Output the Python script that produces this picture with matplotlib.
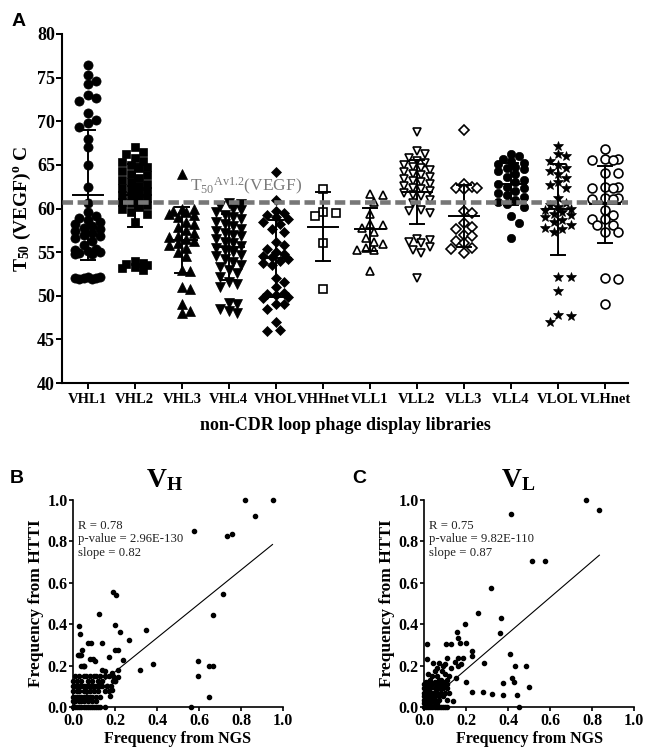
import numpy as np
import matplotlib
matplotlib.use("Agg")
import matplotlib.pyplot as plt

plt.rcParams["font.family"] = ["Liberation Serif", "DejaVu Serif"]
plt.rcParams["mathtext.fontset"] = "custom"
plt.rcParams["mathtext.rm"] = "Liberation Serif"
plt.rcParams["mathtext.it"] = "Liberation Serif:italic"
plt.rcParams["mathtext.bf"] = "Liberation Serif:bold"

# ---------- panel A data (T50 values per library) ----------
libs = ["VHL1", "VHL2", "VHL3", "VHL4", "VHOL", "VHHnet",
        "VLL1", "VLL2", "VLL3", "VLL4", "VLOL", "VLHnet"]

vhl1 = [76.5, 75.3, 74.6, 74.3, 73.0, 72.7, 72.3, 70.9, 70.2, 69.8, 69.3, 68.0, 67.0, 65.0,
        62.5, 60.6, 59.6, 59.1, 58.9, 58.7, 58.5, 58.2, 58.0, 57.8, 57.6, 57.4, 57.2, 57.0,
        56.8, 56.6, 56.3, 55.8, 55.4, 55.3, 55.1, 55.0, 54.9, 54.8, 54.8,
        52.1, 52.0, 52.0, 51.9, 51.9, 52.0, 52.1]
vhl2 = [67.0, 66.5, 66.2, 65.8, 65.5, 65.3, 65.0, 64.8, 64.6, 64.3, 64.0, 63.8, 63.5, 63.3,
        63.0, 62.8, 62.6, 62.4, 62.2, 62.0, 61.8, 61.6, 61.4, 61.2, 61.0, 60.8, 60.6, 60.4,
        60.2, 59.9, 59.6, 59.4, 58.5, 54.0, 53.8, 53.6, 53.5, 53.3, 53.2, 53.0]
vhl3 = [64.0, 60.0, 59.9, 59.7, 59.6, 59.4, 59.2, 59.0, 58.5, 58.2, 57.9, 57.5, 57.2, 56.9,
        56.7, 56.5, 56.3, 56.0, 55.8, 55.5, 55.0, 54.5, 53.0, 52.8, 51.0, 50.8, 49.0, 48.2, 48.0]
vhl4 = [60.6, 60.5, 60.3, 60.0, 59.8, 59.6, 59.3, 59.0, 58.8, 58.5, 58.2, 58.0, 57.7, 57.4,
        57.2, 57.0, 56.8, 56.5, 56.2, 56.0, 55.7, 55.5, 55.2, 55.0, 54.7, 54.5, 54.2, 53.9,
        53.5, 53.3, 53.0, 52.6, 52.2, 51.6, 51.4, 51.0, 49.2, 49.0, 48.5, 48.3, 48.0]
vhol = [64.2, 61.0, 59.7, 59.5, 59.2, 59.0, 58.8, 58.5, 58.2, 57.6, 57.3, 56.2, 55.8, 55.4,
        55.0, 54.8, 54.6, 54.4, 54.2, 54.0, 53.8, 53.5, 52.0, 51.6, 51.0, 50.3, 50.2, 50.1,
        49.8, 49.7, 49.0, 49.1, 48.5, 47.0, 46.1, 46.0]
vhhnet = [62.2, 59.6, 59.5, 59.1, 56.1, 50.8]
vll1 = [61.7, 61.6, 60.8, 59.4, 58.2, 58.1, 57.8, 57.3, 56.6, 56.2, 55.9, 55.5, 55.3, 55.2, 52.8]
vll2 = [68.8, 66.6, 66.2, 65.8, 65.4, 65.2, 65.0, 64.8, 64.6, 64.4, 64.2, 64.0, 63.8, 63.6,
        63.4, 63.2, 63.0, 62.8, 62.6, 62.4, 62.2, 62.0, 61.8, 61.6, 61.4, 61.0, 60.6, 59.8,
        59.7, 59.5, 56.5, 56.4, 56.2, 56.0, 55.6, 55.3, 54.9, 52.0]
vll3 = [69.0, 62.8, 62.5, 62.4, 62.3, 62.2, 59.7, 59.5, 58.3, 57.9, 57.6, 57.0, 56.8, 56.3,
        56.0, 55.5, 55.4, 54.9]
vll4 = [66.3, 66.0, 65.7, 65.5, 65.2, 65.1, 64.8, 64.6, 64.5, 64.3, 64.0, 63.6, 63.3, 63.0,
        62.8, 62.5, 62.3, 62.0, 61.8, 61.6, 61.3, 61.0, 60.8, 60.5, 60.2, 59.1, 58.3, 56.6]
vlol = [67.2, 66.2, 66.0, 65.5, 65.0, 64.6, 64.3, 64.0, 63.5, 63.0, 62.7, 62.4, 61.2, 60.6,
        60.4, 60.2, 60.0, 59.8, 59.6, 59.4, 59.2, 59.0, 58.7, 58.4, 58.1, 57.8, 57.6, 57.3,
        52.2, 52.1, 50.5, 47.8, 47.7, 47.0]
vlhnet = [66.8, 65.7, 65.7, 65.6, 65.6, 64.1, 64.1, 62.5, 62.5, 62.4, 62.4, 61.2, 61.2, 61.1,
          61.1, 59.8, 59.3, 58.8, 58.8, 58.1, 58.1, 57.3, 57.3, 52.0, 51.9, 49.1]
groups = [vhl1, vhl2, vhl3, vhl4, vhol, vhhnet, vll1, vll2, vll3, vll4, vlol, vlhnet]

# mean and SD bars as drawn in the figure
means = [61.5, 61.5, 56.4, 55.6, 54.3, 57.9, 57.6, 61.9, 59.1, 62.8, 59.9, 60.5]
sds = [7.45, 3.6, 3.8, 3.8, 4.4, 3.95, 2.5, 3.7, 3.55, 2.4, 5.2, 4.4]
t50_ref = 60.8

# ---------- panels B / C data (NGS vs HTTI frequencies) ----------
vh_ngs = [0.818, 0.953, 0.866, 0.578, 0.731, 0.757, 0.715, 0.665, 0.597, 0.647, 0.665, 0.593,
          0.647, 0.562, 0.347, 0.383, 0.32, 0.267, 0.225, 0.2, 0.212, 0.19, 0.204, 0.2, 0.125,
          0.138, 0.07, 0.085, 0.03, 0.035, 0.043, 0.027, 0.035, 0.046, 0.052, 0.082, 0.097,
          0.105, 0.17, 0.215, 0.138, 0.153, 0.215, 0.193, 0.24, 0.185, 0.185, 0.177, 0.16, 0.2]
vh_htti = [1.0, 1.0, 0.923, 0.85, 0.826, 0.834, 0.548, 0.444, 0.221, 0.2, 0.2, 0.148,
           0.048, 0.0, 0.374, 0.21, 0.18, 0.326, 0.363, 0.274, 0.274, 0.555, 0.539, 0.395, 0.447,
           0.31, 0.31, 0.31, 0.39, 0.353, 0.277, 0.253, 0.253, 0.2, 0.2, 0.232, 0.232,
           0.224, 0.24, 0.18, 0.18, 0.172, 0.145, 0.132, 0.226, 0.165, 0.081, 0.055, 0.1, 0.125]
# dense rows near the origin: HTTI value -> NGS values
vh_rows = {
    0.15: [0.01, 0.03, 0.05, 0.06, 0.08, 0.10, 0.11, 0.13, 0.15, 0.17, 0.19],
    0.125: [0.0, 0.02, 0.04, 0.07, 0.09, 0.12, 0.14, 0.19, 0.20],
    0.10: [0.0, 0.01, 0.02, 0.03, 0.04, 0.05, 0.06, 0.07, 0.08, 0.09, 0.10, 0.11, 0.12,
           0.13, 0.14, 0.16, 0.18],
    0.075: [0.0, 0.02, 0.03, 0.05, 0.06, 0.08, 0.10, 0.12, 0.15, 0.17],
    0.05: [0.0, 0.01, 0.02, 0.03, 0.04, 0.05, 0.06, 0.07, 0.08, 0.09, 0.11, 0.13],
    0.03: [0.0, 0.01, 0.03, 0.04, 0.05, 0.07, 0.09, 0.11],
    0.0: [0.0, 0.01, 0.02, 0.03, 0.04, 0.05, 0.06, 0.07, 0.08, 0.09, 0.10, 0.11, 0.12,
          0.13, 0.15],
    0.2: [0.04, 0.05],
    0.25: [0.025, 0.04],
}
vl_ngs = [0.773, 0.834, 0.412, 0.515, 0.578, 0.317, 0.258, 0.366, 0.361, 0.195, 0.155, 0.163,
          0.171, 0.198, 0.227, 0.227, 0.16, 0.185, 0.147, 0.108, 0.105, 0.127, 0.013, 0.013,
          0.044, 0.071, 0.052, 0.084, 0.13, 0.198, 0.287, 0.409, 0.433, 0.417, 0.429, 0.377,
          0.488, 0.499, 0.445, 0.452, 0.374, 0.325, 0.282, 0.23, 0.136, 0.09, 0.1, 0.06, 0.16,
          0.175, 0.12, 0.15]
vl_htti = [1.0, 0.953, 0.932, 0.703, 0.703, 0.577, 0.452, 0.432, 0.356, 0.4, 0.36, 0.335,
           0.311, 0.311, 0.271, 0.247, 0.239, 0.239, 0.215, 0.239, 0.303, 0.303, 0.303, 0.23,
           0.211, 0.211, 0.174, 0.174, 0.19, 0.123, 0.211, 0.255, 0.2, 0.142, 0.123, 0.115,
           0.2, 0.098, 0.058, 0.0, 0.058, 0.061, 0.073, 0.073, 0.029, 0.2, 0.21, 0.19, 0.2,
           0.21, 0.15, 0.14]
vl_rows = {
    0.16: [0.02, 0.10],
    0.15: [0.04, 0.06],
    0.13: [0.03, 0.07, 0.08, 0.11],
    0.12: [0.01, 0.03, 0.05, 0.07, 0.09],
    0.11: [0.0, 0.02, 0.04, 0.06, 0.08, 0.10, 0.11],
    0.09: [0.0, 0.01, 0.02, 0.03, 0.05, 0.06, 0.07, 0.09, 0.11],
    0.07: [0.0, 0.01, 0.02, 0.03, 0.04, 0.05, 0.06, 0.08, 0.10, 0.12],
    0.055: [0.0, 0.02, 0.03, 0.05, 0.07, 0.09],
    0.035: [0.0, 0.01, 0.02, 0.04, 0.05, 0.07, 0.11],
    0.02: [0.0, 0.01, 0.03, 0.05, 0.06],
    0.0: [0.0, 0.01, 0.02, 0.03, 0.04, 0.05, 0.06, 0.07, 0.08, 0.09, 0.10, 0.11],
}
vh_fit = dict(slope=0.82, icpt=0.006, xmax=0.95, r="0.78", p="2.96E-130")
vl_fit = dict(slope=0.87, icpt=0.007, xmax=0.835, r="0.75", p="9.82E-110")

# marker styles per library (GraphPad symbol set)
markers = ["o", "s", "^", "v", "D", "s", "^", "v", "D", "o", "*", "o"]
filled = [True] * 5 + [False] * 4 + [True, True, False]
msizes = [6.6, 6.0, 6.6, 6.6, 5.2, 5.2, 6.0, 6.0, 4.8, 6.0, 7.8, 6.4]

PX_Y = 8.725   # pixels per degree on panel A
PX_X = 47.0    # pixels per category


def swarm(vals, d=8.5, step=4.2, kmax=3):
    """place points side by side (in px) so they don't pile up, like a column scatter"""
    vals = np.asarray(vals, float)
    off = np.zeros(len(vals))
    placed = []
    cands = [0] + [s * k for k in range(1, kmax + 1) for s in (1, -1)]
    for i in np.argsort(-vals):
        y = vals[i] * PX_Y
        pick, bestd = 0.0, -1.0
        for c in cands:
            x = c * step
            md = min([np.hypot(x - px, y - py) for px, py in placed], default=1e9)
            if md >= d:
                pick = x
                break
            if md > bestd:
                pick, bestd = x, md
        placed.append((pick, y))
        off[i] = pick
    return off / PX_X


fig = plt.figure(figsize=(6.45, 7.47), dpi=100)

# ---------- A ----------
ax = fig.add_axes([62 / 645, 1 - 383 / 747, 566 / 645, 349 / 747])
for i, vals in enumerate(groups):
    x0 = i + 1
    xs = x0 + swarm(vals)
    if filled[i]:
        ax.plot(xs, vals, ls="none", marker=markers[i], ms=msizes[i], mfc="black",
                mec="black", mew=0.5, zorder=3, clip_on=False)
    else:
        ax.plot(xs, vals, ls="none", marker=markers[i], ms=msizes[i], mfc="white",
                mec="black", mew=1.2, zorder=3, clip_on=False)
    m, s = means[i], sds[i]
    ax.plot([x0, x0], [m - s, m + s], color="black", lw=1.4, zorder=4)
    ax.plot([x0 - 0.32, x0 + 0.32], [m, m], color="black", lw=1.4, zorder=4)
    for yy in (m - s, m + s):
        ax.plot([x0 - 0.15, x0 + 0.15], [yy, yy], color="black", lw=1.4, zorder=4)

ax.axhline(t50_ref, color="#777777", lw=3.3, dashes=(2.3, 1.0), zorder=5)
ax.text(3.18, 62.0, r"T$_{\mathrm{50}}$$^{\mathrm{Av1.2}}$(VEGF)", color="#7a7a7a",
        fontsize=12.5, ha="left", va="baseline", zorder=6)

ax.set_xlim(0.45, 12.49)
ax.set_ylim(40, 80)
ax.set_yticks(range(40, 81, 5))
ax.set_xticks(range(1, 13))
ax.set_xticklabels(libs, fontsize=10.5, fontweight="bold")
for lab in ax.get_yticklabels():
    lab.set_fontsize(13)
    lab.set_fontweight("bold")
ax.tick_params(axis="y", direction="out", length=4, width=1.4, pad=1)
ax.tick_params(axis="x", direction="out", length=4, width=1.4, pad=3)
for sp in ("top", "right"):
    ax.spines[sp].set_visible(False)
for sp in ("left", "bottom"):
    ax.spines[sp].set_linewidth(1.5)
ax.set_ylabel(r"T$_{\mathbf{50}}$ (VEGF)$^{\mathbf{o}}$ C", fontsize=14,
              fontweight="bold", labelpad=3)
ax.set_xlabel("non-CDR loop phage display libraries", fontsize=13, fontweight="bold",
              labelpad=8)


# ---------- B / C ----------
def corr_panel(rect, ngs, htti, rows, fit):
    ax = fig.add_axes(rect)
    xs = list(ngs)
    ys = list(htti)
    for yv, xl in rows.items():
        xs += xl
        ys += [yv] * len(xl)
    ax.plot(xs, ys, ls="none", marker="o", ms=3.0, color="black", clip_on=False, zorder=3)
    lx = np.array([0.0, fit["xmax"]])
    ax.plot(lx, fit["icpt"] + fit["slope"] * lx, color="black", lw=0.8, zorder=2)
    ax.text(0.025, 0.905, "R = %s\np-value = %s\nslope = %.2f" % (fit["r"], fit["p"], fit["slope"]),
            transform=ax.transAxes, va="top", ha="left", fontsize=9.2, linespacing=1.2,
            color="#222222")
    ax.set_xlim(0, 1)
    ax.set_ylim(0, 1)
    ticks = [0.0, 0.2, 0.4, 0.6, 0.8, 1.0]
    ax.set_xticks(ticks)
    ax.set_yticks(ticks)
    ax.set_xticklabels(["%.1f" % t for t in ticks], fontsize=11.5, fontweight="bold")
    ax.set_yticklabels(["%.1f" % t for t in ticks], fontsize=11.5, fontweight="bold")
    ax.tick_params(direction="out", length=3, width=1.2, pad=1)
    for sp in ("top", "right"):
        ax.spines[sp].set_visible(False)
    for sp in ("left", "bottom"):
        ax.spines[sp].set_linewidth(1.2)
    ax.set_xlabel("Frequency from NGS", fontsize=11.5, fontweight="bold", labelpad=2)
    ax.set_ylabel("Frequency from HTTI", fontsize=12.5, fontweight="bold", labelpad=2)
    return ax


axb = corr_panel([73 / 645, 1 - 707 / 747, 210 / 645, 207 / 747], vh_ngs, vh_htti, vh_rows, vh_fit)
axc = corr_panel([424 / 645, 1 - 707 / 747, 210 / 645, 207 / 747], vl_ngs, vl_htti, vl_rows, vl_fit)

fig.text(165 / 645, 1 - 487 / 747, r"V$_{\mathbf{H}}$", ha="center", va="baseline",
         fontsize=20, fontweight="bold")
fig.text(518 / 645, 1 - 487 / 747, r"V$_{\mathbf{L}}$", ha="center", va="baseline",
         fontsize=20, fontweight="bold")

for lbl, x, y in (("A", 12, 13), ("B", 10, 470), ("C", 352, 470)):
    fig.text(x / 645, 1 - y / 747, lbl, family="Liberation Sans", fontweight="bold",
             fontsize=14, ha="left", va="top")

fig.savefig("out.png", dpi=100)
